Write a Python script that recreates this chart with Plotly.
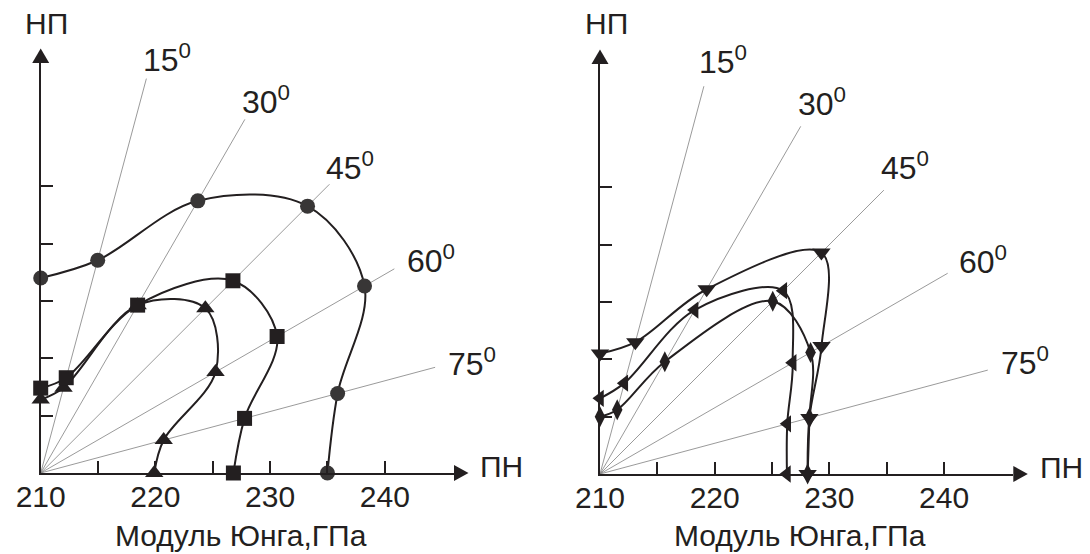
import numpy as np
import plotly.graph_objects as go

# ---------------------------------------------------------------- data
angles = [0, 15, 30, 45, 60, 75, 90]          # direction, degrees from НП
E_REF = 210                                   # GPa at the origin

# left diagram, Young's modulus (GPa) per direction
e_circle = [227.0, 229.2, 237.4, 242.9, 242.6, 236.8, 235.0]
e_square = [217.4, 218.6, 226.9, 233.7, 233.8, 228.4, 226.8]
e_tri_up = [216.4, 217.7, 226.9, 230.3, 227.6, 221.1, 219.9]

# right diagram
e_tri_down = [220.5, 221.9, 228.6, 237.3, 232.3, 228.9, 228.1]
e_tri_left = [216.6, 218.2, 226.5, 232.6, 229.4, 226.9, 226.3]
e_diamond = [215.0, 215.8, 221.3, 231.3, 231.2, 228.9, 228.1]

ray_angles = [15, 30, 45, 60, 75]
ray_labels = ["15", "30", "45", "60", "75"]
x_major = [210, 220, 230, 240]
x_minor = [215, 225, 235]
y_ticks = [5, 10, 15, 20, 25]
x_title = "Модуль Юнга,ГПа"
y_name, x_name = "НП", "ПН"

# ---------------------------------------------------------------- geometry
W, H = 1090, 554
K = 11.47                       # px per GPa on both axes
INK = "#231f20"
FONT = "Liberation Sans, Arial, sans-serif"

panels = [
    dict(ox=40.7, oy=473.0, ray_len=35.6,
         lab=[(141, 58), (240, 100), (324, 166), (405, 259), (446, 362)]),
    dict(ox=600.0, oy=474.0, ray_len=35.0,
         lab=[(697, 60), (796, 102), (879, 166), (957, 260), (999, 361)]),
]
AX_LEN_X = 413.3                # axis line length (px) up to arrow base
AX_LEN_Y = 410.0
ARROW = 14.5


def polar(e_vals):
    e = np.asarray(e_vals, float) - E_REF
    t = np.radians(angles)
    return E_REF + e * np.sin(t), e * np.cos(t)


def paper(px, py):
    return px / W, 1 - py / H


fig = go.Figure()
layout = dict(width=W, height=H, margin=dict(l=0, r=0, t=0, b=0, autoexpand=False),
              paper_bgcolor="white", plot_bgcolor="rgba(0,0,0,0)",
              showlegend=False, font=dict(family=FONT, color=INK))
shapes, annots = [], []

for i, p in enumerate(panels):
    xa = "x" if i == 0 else "x2"
    ya = "y" if i == 0 else "y2"
    ox, oy = p["ox"], p["oy"]
    xr = [E_REF, E_REF + AX_LEN_X / K]
    yr = [0, AX_LEN_Y / K]
    common = dict(showgrid=False, zeroline=False, showline=True, automargin=False,
                  linecolor=INK, linewidth=2, ticks="inside", ticklen=12,
                  tickwidth=1.5, tickcolor=INK, fixedrange=True)
    layout["xaxis" if i == 0 else "xaxis2"] = dict(
        common, domain=[ox / W, (ox + AX_LEN_X) / W], range=xr,
        anchor=ya, tickvals=x_major, ticktext=[str(v) for v in x_major],
        tickfont=dict(size=30, family=FONT, color=INK), ticklabelstandoff=-4,
        minor=dict(tickvals=x_minor, ticks="inside", ticklen=12,
                   tickwidth=1.5, tickcolor=INK))
    layout["yaxis" if i == 0 else "yaxis2"] = dict(
        common, domain=[1 - oy / H, 1 - (oy - AX_LEN_Y) / H], range=yr,
        anchor=xa, tickvals=y_ticks, showticklabels=False)

    # radial guide lines
    for a in ray_angles:
        t = np.radians(a)
        fig.add_trace(go.Scatter(
            x=[E_REF, E_REF + p["ray_len"] * np.sin(t)],
            y=[0, p["ray_len"] * np.cos(t)], mode="lines",
            line=dict(color="#808080", width=0.8), hoverinfo="skip",
            xaxis=xa, yaxis=ya))

    # angle labels
    for (lx, ly), txt in zip(p["lab"], ray_labels):
        px_, py_ = paper(lx, ly)
        annots.append(dict(x=px_, y=py_, xref="paper", yref="paper",
                           text=f"{txt}<sup>0</sup>", showarrow=False,
                           xanchor="left", yanchor="middle",
                           font=dict(size=32, family=FONT, color=INK)))

    # arrow heads
    tip = paper(ox, oy - AX_LEN_Y - ARROW)
    b1 = paper(ox - 8.5, oy - AX_LEN_Y)
    b2 = paper(ox + 8.5, oy - AX_LEN_Y)
    shapes.append(dict(type="path", xref="paper", yref="paper",
                       path=f"M{tip[0]},{tip[1]} L{b1[0]},{b1[1]} L{b2[0]},{b2[1]} Z",
                       fillcolor=INK, line=dict(width=0)))
    tip = paper(ox + AX_LEN_X + ARROW, oy)
    b1 = paper(ox + AX_LEN_X, oy - 8)
    b2 = paper(ox + AX_LEN_X, oy + 8)
    shapes.append(dict(type="path", xref="paper", yref="paper",
                       path=f"M{tip[0]},{tip[1]} L{b1[0]},{b1[1]} L{b2[0]},{b2[1]} Z",
                       fillcolor=INK, line=dict(width=0)))

    # axis names and title
    for txt, (lx, ly) in [(y_name, (ox + 6, 23)), (x_name, (ox + 461, oy - 7)),
                          (x_title, (ox + 200, 535))]:
        px_, py_ = paper(lx, ly)
        annots.append(dict(x=px_, y=py_, xref="paper", yref="paper", text=txt,
                           showarrow=False, xanchor="center", yanchor="middle",
                           font=dict(size=30, family=FONT, color=INK)))


def curve(e_vals, symbol, size, color, xa, ya):
    x, y = polar(e_vals)
    fig.add_trace(go.Scatter(
        x=x, y=y, mode="lines+markers", cliponaxis=False,
        line=dict(color=INK, width=2, shape="spline", smoothing=1.0),
        marker=dict(symbol=symbol, size=size, color=color, line=dict(width=0)),
        xaxis=xa, yaxis=ya))


curve(e_tri_up, "triangle-up", 16, INK, "x", "y")
curve(e_square, "square", 15, INK, "x", "y")
curve(e_circle, "circle", 15, "#383636", "x", "y")

curve(e_diamond, "diamond-tall", 15, INK, "x2", "y2")
curve(e_tri_left, "triangle-left", 15, INK, "x2", "y2")
curve(e_tri_down, "triangle-down", 16, INK, "x2", "y2")

layout["shapes"] = shapes
layout["annotations"] = annots
fig.update_layout(**layout)
fig.write_html("out.html")
